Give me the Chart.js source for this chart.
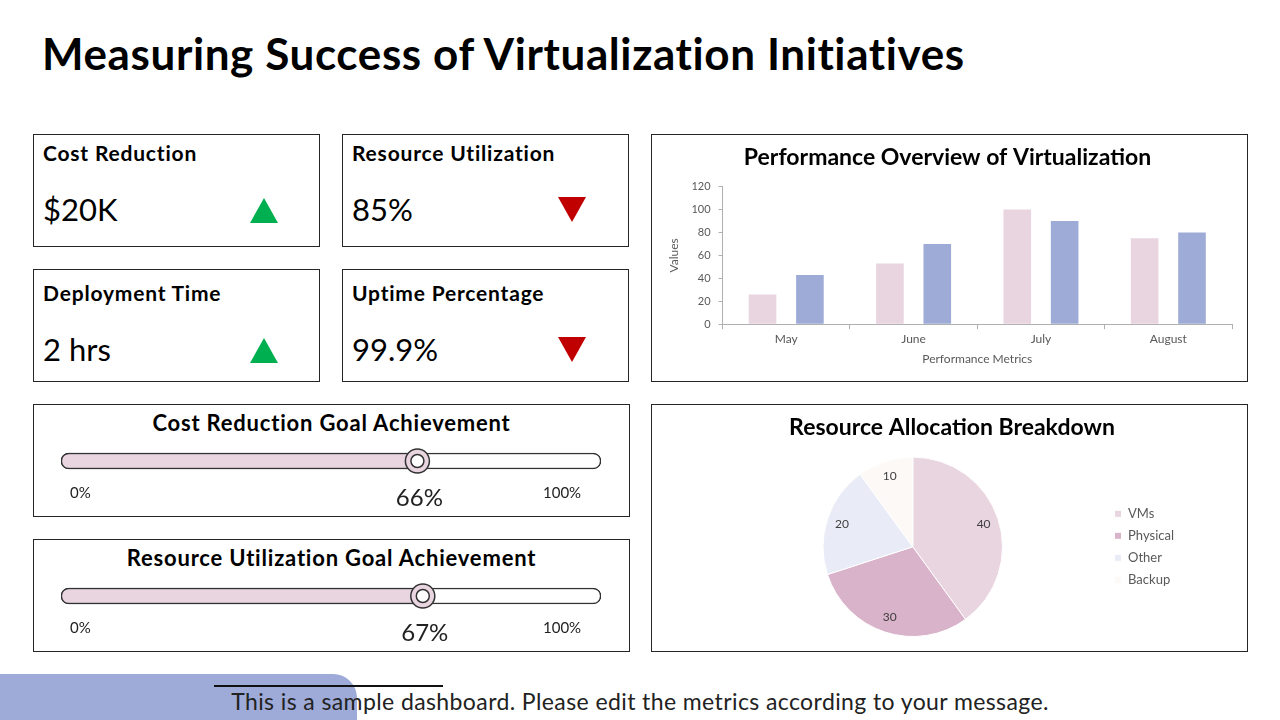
<!DOCTYPE html>
<html>
<head>
<meta charset="utf-8">
<script src="https://cdn.jsdelivr.net/npm/chart.js@4.4.0/dist/chart.umd.min.js"></script>
<style>
    body { margin: 0; background: #fff; font-family: Lato, "Noto Sans", sans-serif; color: #000; }
    #page { position: relative; width: 1280px; height: 720px; overflow: hidden; background: #fff; }
    .box { position: absolute; border: 1.5px solid #262626; box-sizing: border-box; background: #fff; }
    .kpi-title { position: absolute; left: 9px; top: 5px; font-size: 21px; font-weight: bold; letter-spacing: 0.8px; }
    .kpi-value { position: absolute; left: 9px; top: 55px; font-size: 31px; font-weight: 400; }
    .tri-up { position: absolute; left: 216px; top: 63px; width: 0; height: 0;
        border-left: 14px solid transparent; border-right: 14px solid transparent; border-bottom: 25px solid #00b050; }
    .tri-down { position: absolute; left: 215px; top: 62px; width: 0; height: 0;
        border-left: 14.5px solid transparent; border-right: 14.5px solid transparent; border-top: 25px solid #c00000; }
    .row2 .kpi-title, .row2 .kpi-value, .row2 .tri-up, .row2 .tri-down { margin-top: 5px; }
    .goal-title { position: absolute; left: 0; right: 0; top: 4px; text-align: center; font-size: 22px; font-weight: bold; letter-spacing: 0.8px; }
    .goal-min, .goal-max { position: absolute; top: 78px; font-size: 15px; color: #222; }
    .goal-min { left: 36px; }
    .goal-max { left: 509px; }
    #title { position: absolute; left: 42px; top: 27px; font-size: 44px; font-weight: bold; letter-spacing: 0.6px; white-space: nowrap; }
    #footer-bar { position: absolute; left: 0; top: 674px; width: 357px; height: 60px; background: #9eaad7; border-top-right-radius: 24px; }
    #footer-line { position: absolute; left: 214px; top: 685px; width: 229px; height: 2px; background: #111; }
    #footer-text { position: absolute; left: 0; width: 1280px; top: 687px; text-align: center; font-size: 23px; letter-spacing: 0.4px; color: #222; }
</style>
</head>
<body>
<div id="page">
    <div id="title">Measuring Success of Virtualization Initiatives</div>
    <div id="kpis"></div>
    <div id="goals"></div>
    <div class="box" style="left:651px;top:134px;width:597px;height:248px;">
        <canvas id="barChart" width="594" height="245"></canvas>
    </div>
    <div class="box" style="left:651px;top:404px;width:597px;height:248px;">
        <canvas id="pieChart" width="594" height="245"></canvas>
    </div>
    <div id="footer-bar"></div>
    <div id="footer-line"></div>
    <div id="footer-text">This is a sample dashboard. Please edit the metrics according to your message.</div>
</div>
<script>
// ── Data ──
const kpiNames = ['Cost Reduction', 'Resource Utilization', 'Deployment Time', 'Uptime Percentage'];
const kpiValues = ['$20K', '85%', '2 hrs', '99.9%'];
const kpiTrend = ['up', 'down', 'up', 'down'];

const goalNames = ['Cost Reduction Goal Achievement', 'Resource Utilization Goal Achievement'];
const goalValues = [66, 67];

const months = ['May', 'June', 'July', 'August'];
const seriesPink = [26, 53, 100, 75];
const seriesBlue = [43, 70, 90, 80];

const allocLabels = ['VMs', 'Physical', 'Other', 'Backup'];
const allocValues = [40, 30, 20, 10];

// ── Styles ──
const FONT = 'Lato, "Noto Sans", sans-serif';
const COLORS = {
    pink: '#e8d5e0', blue: '#9eabd6', axis: '#b0b0b0', tick: '#595959', ink: '#262626'
};
const PIE_COLORS = ['#e9d5e0', '#d9b3c9', '#e9ecf6', '#fdf9f6'];
Chart.defaults.font.family = FONT;

// ── KPI cards ──
const kpiPos = [[33, 134], [342, 134], [33, 269], [342, 269]];
const kpiWrap = document.getElementById('kpis');
kpiNames.forEach((name, i) => {
    const d = document.createElement('div');
    d.className = 'box' + (i > 1 ? ' row2' : '');
    d.style.cssText = `left:${kpiPos[i][0]}px;top:${kpiPos[i][1]}px;width:287px;height:113px;`;
    d.innerHTML = `<div class="kpi-title">${name}</div><div class="kpi-value">${kpiValues[i]}</div>` +
        `<div class="${kpiTrend[i] === 'up' ? 'tri-up' : 'tri-down'}"></div>`;
    kpiWrap.appendChild(d);
});

// ── Goal sliders ──
const knobPlugin = {
    id: 'knob',
    afterDatasetsDraw(chart) {
        const v = chart.config.options.goalValue;
        const x = chart.scales.x.getPixelForValue(v);
        const y = chart.scales.y.getPixelForValue(0);
        const ctx = chart.ctx;
        ctx.save();
        ctx.lineWidth = 1.5;
        ctx.strokeStyle = '#333';
        ctx.fillStyle = COLORS.pink;
        ctx.beginPath(); ctx.arc(x, y, 12, 0, Math.PI * 2); ctx.fill(); ctx.stroke();
        ctx.fillStyle = '#fff';
        ctx.beginPath(); ctx.arc(x, y, 6.5, 0, Math.PI * 2); ctx.fill(); ctx.stroke();
        ctx.fillStyle = '#222';
        ctx.font = '24px ' + FONT;
        ctx.textAlign = 'center';
        ctx.textBaseline = 'middle';
        ctx.fillText(v + '%', x + 2, y + 37);
        ctx.restore();
    }
};

const goalWrap = document.getElementById('goals');
goalNames.forEach((name, i) => {
    const d = document.createElement('div');
    d.className = 'box';
    d.style.cssText = `left:33px;top:${404 + i * 135}px;width:597px;height:113px;`;
    d.innerHTML = `<div class="goal-title">${name}</div>` +
        `<canvas id="goal${i}" width="570" height="72" style="position:absolute;left:12px;top:36px;"></canvas>` +
        `<div class="goal-min">0%</div><div class="goal-max">100%</div>`;
    goalWrap.appendChild(d);
    new Chart(document.getElementById('goal' + i), {
        type: 'bar',
        data: {
            labels: [''],
            datasets: [
                { data: [goalValues[i]], backgroundColor: COLORS.pink, borderColor: '#333', borderWidth: 1.5,
                  borderSkipped: false, borderRadius: { topLeft: 8, bottomLeft: 8 }, barThickness: 16 },
                { data: [100], backgroundColor: '#fff', borderColor: '#333', borderWidth: 1.5,
                  borderSkipped: false, borderRadius: 8, barThickness: 16 }
            ]
        },
        options: {
            goalValue: goalValues[i],
            indexAxis: 'y', responsive: false, animation: false, grouped: false,
            layout: { padding: { left: 15, right: 15, top: 0, bottom: 32 } },
            plugins: { legend: { display: false }, tooltip: { enabled: false } },
            scales: {
                x: { display: false, min: 0, max: 100 },
                y: { display: false }
            }
        },
        plugins: [knobPlugin]
    });
});

// ── Performance bar chart ──
new Chart(document.getElementById('barChart'), {
    type: 'bar',
    data: {
        labels: months,
        datasets: [
            { label: 'Series 1', data: seriesPink, backgroundColor: COLORS.pink, categoryPercentage: 0.744, barPercentage: 0.583 },
            { label: 'Series 2', data: seriesBlue, backgroundColor: COLORS.blue, categoryPercentage: 0.744, barPercentage: 0.583 }
        ]
    },
    options: {
        responsive: false, animation: false,
        layout: { padding: { left: 11, right: 14, top: 4, bottom: 10 } },
        plugins: {
            legend: { display: false }, tooltip: { enabled: false },
            title: { display: true, text: 'Performance Overview of Virtualization', color: '#000',
                     font: { size: 23, weight: 'bold' }, padding: { top: 5, bottom: 15 } }
        },
        scales: {
            x: {
                grid: { drawOnChartArea: false, color: COLORS.axis, tickLength: 5 },
                border: { color: COLORS.axis },
                ticks: { color: COLORS.tick, font: { size: 12 }, padding: 3 },
                title: { display: true, text: 'Performance Metrics', color: COLORS.tick, font: { size: 12 }, padding: { top: 2 } }
            },
            y: {
                min: 0, max: 120,
                grid: { drawOnChartArea: false, color: COLORS.axis, tickLength: 4 },
                border: { color: COLORS.axis },
                ticks: { stepSize: 20, color: COLORS.tick, font: { size: 11 }, padding: 8 },
                title: { display: true, text: 'Values', color: COLORS.tick, font: { size: 12 }, padding: { bottom: 2 } }
            }
        }
    }
});

// ── Resource allocation pie ──
const pieLabels = {
    id: 'pieLabels',
    afterDatasetsDraw(chart) {
        const ctx = chart.ctx;
        const meta = chart.getDatasetMeta(0);
        ctx.save();
        ctx.fillStyle = '#404040';
        ctx.font = '12px ' + FONT;
        ctx.textAlign = 'center';
        ctx.textBaseline = 'middle';
        meta.data.forEach((arc, i) => {
            const p = arc.getProps(['x', 'y', 'startAngle', 'endAngle', 'outerRadius']);
            const mid = (p.startAngle + p.endAngle) / 2;
            const r = p.outerRadius * 0.83;
            ctx.fillText(allocValues[i], p.x + Math.cos(mid) * r, p.y + Math.sin(mid) * r);
        });
        ctx.restore();
    }
};

new Chart(document.getElementById('pieChart'), {
    type: 'pie',
    data: {
        labels: allocLabels,
        datasets: [{ data: allocValues, backgroundColor: PIE_COLORS, borderColor: '#fff', borderWidth: 1 }]
    },
    options: {
        responsive: false, animation: false,
        layout: { padding: { left: 68, right: 62, top: 2, bottom: 13 } },
        plugins: {
            tooltip: { enabled: false },
            title: { display: true, text: 'Resource Allocation Breakdown', color: '#000',
                     font: { size: 23, weight: 'bold' }, padding: { top: 7, bottom: 15 } },
            legend: { position: 'right', fullSize: false,
                      labels: { boxWidth: 7, boxHeight: 7, color: COLORS.tick, font: { size: 13 }, padding: 9 } }
        }
    },
    plugins: [pieLabels]
});
</script>
</body>
</html>
